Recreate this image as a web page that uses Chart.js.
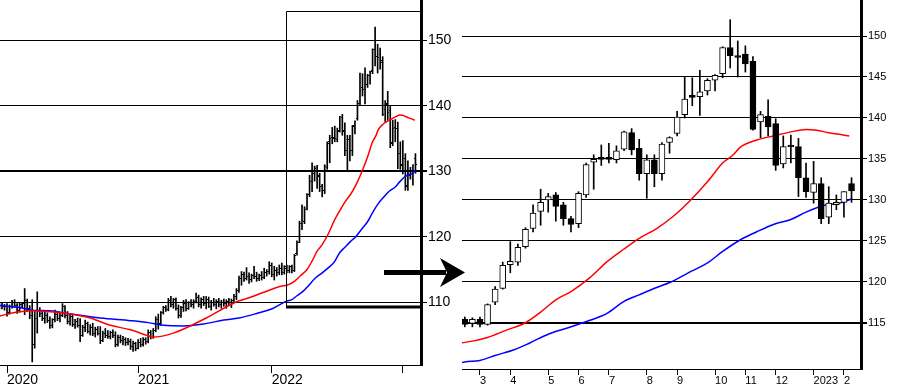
<!DOCTYPE html>
<html>
<head>
<meta charset="utf-8">
<script src="https://cdn.jsdelivr.net/npm/chart.js@4.4.1/dist/chart.umd.min.js"></script>
<style>
  html, body { margin: 0; padding: 0; background: #fff; }
  #wrap { position: relative; width: 897px; height: 389px; overflow: hidden; }
  canvas { position: absolute; top: 0; }
  #weekly { left: 0; }
  #zoomed { left: 440px; }
  svg { position: absolute; left: 0; top: 0; pointer-events: none; }
</style>
</head>
<body>
<div id="wrap">
  <canvas id="weekly" width="455" height="389"></canvas>
  <canvas id="zoomed" width="457" height="389"></canvas>
  <!-- the arrow pointing from the overview to the zoomed window -->
  <svg width="897" height="389">
    <rect x="384" y="270" width="62" height="5" fill="#000"></rect>
    <polygon points="465,272.5 440,258 447,272.5 440,287" fill="#000"></polygon>
  </svg>
</div>
<script>
// Weekly prices. Week 0 = first week of 2020, one entry per week from firstWeek on.
const firstWeek = -3;

const weekOpen = [
  109.2, 109.5, 109.3, 109.4, 108.5, 109.4, 110.0, 109.5, 108.8, 109.6,
  109.8, 110.3, 109.0, 108.0, 103.5, 107.5, 108.8, 108.3, 107.6, 108.0,
  107.2, 106.5, 107.3, 108.2, 107.6, 108.0, 109.3, 108.0, 107.0, 107.8,
  106.6, 107.0, 106.4, 105.0, 106.2, 106.8, 105.6, 106.1, 105.3, 105.9,
  105.2, 104.2, 105.3, 105.0, 104.8, 105.4, 104.9, 103.6, 104.6, 104.1,
  104.3, 103.8, 104.0, 103.2, 103.7, 103.0, 103.9, 103.6, 104.3, 104.0,
  105.4, 104.8, 105.7, 107.3, 106.7, 108.4, 109.2, 108.9, 110.3, 109.7,
  110.4, 109.0, 108.0, 109.2, 109.8, 109.1, 109.9, 109.6, 110.2, 110.8,
  109.6, 110.4, 109.8, 110.5, 109.4, 110.0, 109.7, 110.1, 109.6, 110.0,
  109.8, 110.2, 109.9, 110.3, 110.9, 111.8, 113.6, 114.3, 113.7, 114.0,
  113.5, 114.1, 114.0, 113.6, 114.1, 113.8, 114.6, 114.7, 115.6, 114.3,
  114.9, 114.5, 115.1, 114.6,
  115.4, 114.9, 115.4, 114.8, 117.5, 119.2, 122.1, 122.4, 124.3, 126.5,
  128.6, 130.0, 130.6, 129.4, 127.7, 127.1, 130.6, 134.6, 135.2, 135.2,
  134.9, 136.2, 138.2, 136.3, 133.2, 134.9, 133.2, 137.0, 138.1, 140.4,
  142.8, 142.6, 143.3, 144.6, 145.4, 148.6, 147.6, 147.8, 146.9, 139.5,
  140.2, 139.3, 134.4, 136.7, 136.5, 132.7, 130.9, 132.0, 127.9, 129.4,
  129.7, 132.0
];
const weekHigh = [
  109.8, 109.9, 109.7, 109.8, 109.6, 110.3, 110.4, 109.8, 109.9, 110.0,
  112.1, 110.5, 109.5, 110.4, 108.6, 111.6, 109.2, 108.7, 108.6, 108.4,
  107.8, 107.5, 108.8, 108.6, 108.4, 109.8, 109.5, 108.6, 108.3, 108.0,
  107.4, 107.6, 107.5, 106.5, 107.3, 107.0, 106.6, 106.8, 106.2, 106.3,
  106.3, 105.6, 106.0, 105.7, 105.6, 105.8, 105.5, 105.0, 105.0, 104.8,
  104.6, 104.5, 104.4, 104.1, 103.9, 104.3, 104.5, 104.6, 104.6, 105.8,
  105.7, 106.0, 107.8, 108.2, 108.6, 109.4, 109.5, 110.6, 110.9, 110.6,
  110.7, 109.6, 109.4, 110.3, 110.4, 110.1, 110.4, 110.4, 111.4, 111.1,
  110.7, 110.9, 110.9, 110.8, 110.3, 110.6, 110.4, 110.6, 110.3, 110.5,
  110.4, 110.6, 110.5, 111.2, 112.1, 114.0, 114.7, 114.6, 115.3, 114.5,
  114.3, 115.5, 114.6, 114.3, 114.7, 115.2, 115.0, 116.2, 116.0, 115.5,
  115.3, 115.7, 116.0, 115.6,
  115.7, 115.6, 115.7, 117.3, 119.4, 122.4, 124.9, 124.6, 126.6, 129.4,
  131.3, 130.8, 130.9, 129.7, 128.0, 131.0, 134.5, 135.5, 136.7, 136.9,
  136.6, 138.4, 138.7, 137.4, 135.5, 135.5, 137.0, 137.7, 140.8, 145.0,
  144.9, 145.8, 144.8, 145.3, 148.7, 152.0, 149.4, 148.8, 147.5, 140.8,
  142.2, 139.9, 137.8, 137.9, 137.5, 134.5, 134.7, 132.7, 131.6, 130.6,
  131.0, 132.7
];
const weekLow = [
  108.9, 109.0, 108.8, 107.9, 108.2, 109.1, 109.2, 108.3, 108.5, 109.2,
  108.1, 108.6, 107.5, 100.9, 103.0, 105.3, 107.8, 107.2, 106.8, 106.9,
  106.0, 106.1, 107.0, 107.2, 107.0, 107.8, 107.6, 106.7, 106.5, 106.3,
  106.0, 106.2, 104.0, 104.8, 105.5, 105.3, 105.0, 104.9, 104.7, 105.0,
  103.7, 104.0, 104.6, 104.5, 104.4, 104.6, 103.2, 103.3, 103.8, 103.5,
  103.4, 103.5, 102.8, 102.5, 102.6, 102.9, 103.2, 103.3, 103.6, 103.8,
  104.4, 104.5, 105.5, 105.9, 106.5, 108.2, 108.6, 108.7, 109.3, 109.1,
  108.8, 107.6, 107.7, 108.6, 108.7, 108.9, 109.3, 109.1, 109.9, 109.3,
  109.1, 109.5, 109.0, 109.2, 108.8, 109.4, 109.0, 109.3, 109.1, 109.4,
  109.1, 109.6, 109.2, 110.0, 110.4, 111.5, 112.6, 113.2, 113.4, 112.9,
  113.1, 113.6, 113.2, 113.3, 113.4, 113.6, 114.0, 114.3, 113.9, 113.4,
  114.0, 114.2, 114.2, 114.3,
  114.5, 114.5, 114.5, 114.7, 117.2, 119.1, 121.1, 122.0, 124.1, 126.1,
  126.9, 128.5, 127.4, 126.9, 126.1, 126.6, 130.3, 131.3, 134.2, 134.5,
  134.5, 136.0, 135.5, 132.4, 130.2, 131.6, 132.4, 135.7, 137.8, 140.0,
  141.5, 140.3, 142.8, 143.3, 144.9, 146.1, 145.0, 145.6, 138.5, 137.6,
  137.8, 133.6, 133.9, 134.5, 130.4, 130.3, 129.6, 127.1, 127.1, 128.8,
  127.9, 129.7
];
const weekClose = [
  109.5, 109.3, 109.4, 108.5, 109.4, 110.0, 109.5, 108.8, 109.6, 109.8,
  110.3, 109.0, 108.0, 103.5, 107.5, 108.8, 108.3, 107.6, 108.0, 107.2,
  106.5, 107.3, 108.2, 107.6, 108.0, 109.3, 108.0, 107.0, 107.8, 106.6,
  107.0, 106.4, 105.0, 106.2, 106.8, 105.6, 106.1, 105.3, 105.9, 105.2,
  104.2, 105.3, 105.0, 104.8, 105.4, 104.9, 103.6, 104.6, 104.1, 104.3,
  103.8, 104.0, 103.2, 103.7, 103.0, 103.9, 103.6, 104.3, 104.0, 105.4,
  104.8, 105.7, 107.3, 106.7, 108.4, 109.2, 108.9, 110.3, 109.7, 110.4,
  109.0, 108.0, 109.2, 109.8, 109.1, 109.9, 109.6, 110.2, 110.8, 109.6,
  110.4, 109.8, 110.5, 109.4, 110.0, 109.7, 110.1, 109.6, 110.0, 109.8,
  110.2, 109.9, 110.3, 110.9, 111.8, 113.6, 114.3, 113.7, 114.0, 113.5,
  114.1, 114.0, 113.6, 114.1, 113.8, 114.6, 114.7, 115.6, 114.3, 114.9,
  114.5, 115.1, 114.6, 115.2,
  114.8, 115.4, 114.8, 117.2, 119.1, 122.0, 122.5, 124.2, 126.4, 128.4,
  129.7, 130.4, 129.2, 127.7, 127.0, 130.8, 134.3, 134.95, 134.95, 134.95,
  136.0, 138.3, 136.1, 133.2, 134.9, 133.2, 136.8, 137.6, 140.1, 142.3,
  142.5, 143.2, 144.6, 145.2, 148.6, 147.6, 147.4, 146.6, 138.6, 140.4,
  138.9, 134.2, 136.5, 136.5, 132.7, 131.0, 132.0, 127.7, 129.6, 129.7,
  131.0, 131.1
];

// Moving averages (week, value)
const redMaWeeks  = [-2.8, 1, 10, 16, 24, 33, 41, 49, 56, 58, 66, 79, 90, 96, 103, 109, 111, 114, 116.5, 119, 121, 123, 125, 127.5, 129.7, 132, 134, 136.3, 138.5, 140.7, 143, 145, 146.4, 147.3, 149.5, 151.7, 154, 156, 157.4, 159, 160.4, 161.7];
const redMaValues = [107.9, 108.3, 108.7, 108.6, 108.3, 107.6, 106.5, 105.8, 104.9, 104.7, 105.3, 107.6, 109.9, 110.7, 111.7, 112.5, 112.6, 113.2, 114.1, 115.0, 116.3, 117.8, 118.8, 120.5, 122.4, 124.0, 125.3, 126.5, 128.0, 129.9, 132.2, 134.5, 135.5, 136.4, 137.3, 137.8, 138.3, 138.6, 138.5, 138.2, 138.0, 137.8];
const blueMaWeeks  = [-2.8, 5, 10, 17, 24, 37, 49, 56, 62, 70, 78, 86, 92, 99, 105.6, 111, 113, 115, 117.5, 119.5, 122, 125, 127.5, 129.7, 132, 134, 136.3, 138.5, 140.7, 143, 145, 147.3, 149.5, 151.7, 154, 156, 158.3, 160.4, 162];
const blueMaValues = [109.5, 109.2, 108.8, 108.7, 108.3, 107.6, 107.2, 106.9, 106.5, 106.4, 106.7, 107.3, 107.6, 108.3, 109.1, 110.2, 110.4, 111.0, 111.7, 112.5, 113.6, 114.5, 115.3, 116.1, 117.6, 118.4, 119.3, 120.1, 121.2, 122.3, 123.7, 125.1, 126.1, 127.0, 127.6, 128.5, 129.3, 129.6, 130.1];

// Axes
const leftWeekRange   = [-2.78, 164.2];
const leftPriceRange  = [100.43, 156.15];
const leftTickWeeks   = [0, 52, 105, 157];
const leftTickLabels  = ['2020', '2021', '2022', ''];
const leftPriceTicks  = [110, 120, 130, 140, 150];
const leftBaseLine    = 130;

// The zoomed window (right panel, and the frame drawn on the left one)
const zoomWeeks       = [110.63, 163.25];
const zoomPrices      = [109.35, 154.4];
const rightTickWeeks  = [113, 117, 122, 126, 130, 135, 139, 144, 148, 152, 157, 161];
const rightTickLabels = ['3', '4', '5', '6', '7', '8', '9', '10', '11', '12', '2023', '2'];
const rightPriceTicks = [115, 120, 125, 130, 135, 140, 145, 150];
const rightBaseLine   = 115;
const highlightWeek   = 160;   // the yellow candle

Chart.defaults.font.family = "'Liberation Sans', Arial, sans-serif";
Chart.defaults.color = '#000';

const weeks = weekOpen.map((_, i) => firstWeek + i);
const points = (ws, vs) => ws.map((w, i) => ({ x: w, y: vs[i] }));

// small bitmaps used as the open (left) and close (right) ticks of a bar
function tickImage(side) {
  const c = document.createElement('canvas');
  c.width = 3; c.height = 1;
  const g = c.getContext('2d');
  g.fillStyle = '#000';
  g.fillRect(side < 0 ? 0 : 2, 0, 1, 1);
  return c;
}

function maLine(ws, vs, color) {
  return {
    type: 'line',
    data: points(ws, vs),
    borderColor: color,
    borderWidth: 1.5,
    pointRadius: 0,
    pointHoverRadius: 0,
    cubicInterpolationMode: 'monotone',
  };
}

function axes(o) {
  return {
    x: {
      type: 'linear', min: o.xRange[0], max: o.xRange[1], offset: false,
      afterBuildTicks: s => { s.ticks = o.xTicks.map(v => ({ value: v })); },
      afterFit: s => { s.height = o.xHeight; s.paddingLeft = 0; s.paddingRight = 0; },
      ticks: {
        autoSkip: false, maxRotation: 0, align: 'start', padding: o.xPad,
        font: { size: o.fontSize },
        callback: (v, i) => o.xLabels[i],
      },
      grid: { offset: false, drawOnChartArea: false, drawTicks: true, tickLength: o.xTickLen, color: '#000' },
      border: { color: '#000', width: 1 },
    },
    y: {
      type: 'linear', position: 'right', min: o.yRange[0], max: o.yRange[1],
      afterBuildTicks: s => { s.ticks = o.yTicks.map(v => ({ value: v })); },
      afterFit: s => { s.width = o.yWidth; s.paddingTop = 0; s.paddingBottom = 0; },
      ticks: { padding: 1, font: { size: o.fontSize }, callback: v => String(v) },
      grid: {
        color: '#000', drawTicks: true, tickLength: 6,
        lineWidth: c => (c.tick && c.tick.value === o.base ? 2 : 1),
      },
      border: { color: '#000', width: 3 },
    },
  };
}

const commonOptions = {
  responsive: false,
  animation: false,
  events: [],
  plugins: { legend: { display: false }, tooltip: { enabled: false } },
};

// Frame on the overview that marks the zoomed window
const zoomFrame = {
  id: 'zoomFrame',
  afterDatasetsDraw(chart) {
    const { ctx, chartArea, scales: { x, y } } = chart;
    const left = Math.round(x.getPixelForValue(zoomWeeks[0])) + 0.5;
    const top = Math.round(y.getPixelForValue(zoomPrices[1])) + 0.5;
    const bottom = Math.round(y.getPixelForValue(zoomPrices[0]));
    ctx.save();
    ctx.strokeStyle = '#000';
    ctx.lineWidth = 1;
    ctx.beginPath();
    ctx.moveTo(chartArea.right, top);
    ctx.lineTo(left, top);
    ctx.lineTo(left, bottom);
    ctx.stroke();
    ctx.lineWidth = 3;
    ctx.beginPath();
    ctx.moveTo(left - 0.5, bottom);
    ctx.lineTo(chartArea.right, bottom);
    ctx.stroke();
    ctx.restore();
  },
};

// Left: weekly OHLC bars 2020 - 2023
new Chart(document.getElementById('weekly'), {
  type: 'line',
  data: {
    datasets: [
      maLine(redMaWeeks, redMaValues, '#ff0000'),
      maLine(blueMaWeeks, blueMaValues, '#0000ff'),
      {
        data: points(weeks, weekOpen), showLine: false,
        pointStyle: tickImage(-1), pointRadius: 1, pointHoverRadius: 1,
      },
      {
        data: points(weeks, weekClose), showLine: false,
        pointStyle: tickImage(1), pointRadius: 1, pointHoverRadius: 1,
      },
      {
        type: 'bar',
        data: weeks.map((w, i) => ({ x: w, y: [weekLow[i], weekHigh[i]] })),
        backgroundColor: '#000', barThickness: 1, grouped: false,
      },
    ],
  },
  options: {
    ...commonOptions,
    layout: { padding: 0, autoPadding: false },
    scales: axes({
      xRange: leftWeekRange, xTicks: leftTickWeeks, xLabels: leftTickLabels,
      yRange: leftPriceRange, yTicks: leftPriceTicks, base: leftBaseLine,
      xHeight: 24, yWidth: 34, xTickLen: 8, xPad: -1, fontSize: 14,
    }),
  },
  plugins: [zoomFrame],
});

// Right: the zoomed window as candlesticks
const zoomIdx = weeks.map((w, i) => i).filter(i => weeks[i] >= zoomWeeks[0]);
const bodyColor = i => (weeks[i] === highlightWeek ? '#ffff00'
  : weekClose[i] >= weekOpen[i] ? '#ffffff' : '#000000');

new Chart(document.getElementById('zoomed'), {
  type: 'line',
  data: {
    datasets: [
      {
        type: 'bar',
        data: zoomIdx.map(i => ({ x: weeks[i], y: [weekOpen[i], weekClose[i]] })),
        backgroundColor: zoomIdx.map(bodyColor),
        borderColor: '#000', borderWidth: 1, borderSkipped: false,
        barThickness: 6, grouped: false,
      },
      {
        type: 'bar',
        data: zoomIdx.map(i => ({ x: weeks[i], y: [weekLow[i], weekHigh[i]] })),
        backgroundColor: '#000', barThickness: 1, grouped: false,
      },
      maLine(redMaWeeks, redMaValues, '#ff0000'),
      maLine(blueMaWeeks, blueMaValues, '#0000ff'),
    ],
  },
  options: {
    ...commonOptions,
    layout: { padding: { left: 22, top: 0, right: 0, bottom: 0 }, autoPadding: false },
    scales: axes({
      xRange: zoomWeeks, xTicks: rightTickWeeks, xLabels: rightTickLabels,
      yRange: zoomPrices, yTicks: rightPriceTicks, base: rightBaseLine,
      xHeight: 20, yWidth: 36, xTickLen: 6, xPad: -1, fontSize: 11,
    }),
  },
});
</script>
</body>
</html>
